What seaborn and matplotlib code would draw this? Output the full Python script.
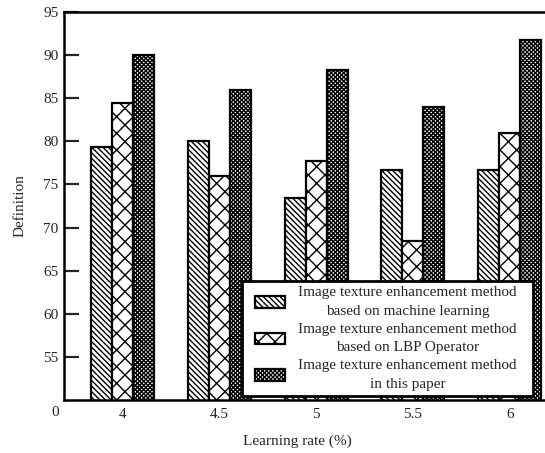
import matplotlib
matplotlib.use("Agg")
import matplotlib.pyplot as plt
import matplotlib.patches as mpatches
from matplotlib.legend_handler import HandlerPatch
import seaborn as sns
import pandas as pd

categories = ["4", "4.5", "5", "5.5", "6"]
ml_values = [79.4, 80.0, 73.4, 76.7, 76.7]
lbp_values = [84.4, 76.0, 77.7, 68.4, 81.0]
paper_values = [90.0, 86.0, 88.3, 84.0, 91.7]
series_names = [
    "Image texture enhancement method\nbased on machine learning",
    "Image texture enhancement method\nbased on LBP Operator",
    "Image texture enhancement method\nin this paper",
]
y_ticks = [55, 60, 65, 70, 75, 80, 85, 90, 95]

rows = []
for name, vals in zip(series_names, [ml_values, lbp_values, paper_values]):
    for c, v in zip(categories, vals):
        rows.append({"lr": c, "val": v, "method": name})
df = pd.DataFrame(rows)

sns.set_style("ticks")
plt.rcParams["font.family"] = ["Liberation Serif", "DejaVu Serif"]
plt.rcParams["hatch.linewidth"] = 1.0
plt.rcParams["hatch.color"] = "black"

fig = plt.figure(figsize=(5.45, 4.53), dpi=100)
ax = fig.add_axes([64 / 545, 53 / 453, 504 / 545, 388 / 453])

sns.barplot(data=df, x="lr", y="val", hue="method", order=categories,
            hue_order=series_names, ax=ax, width=0.65, gap=0,
            legend=False, saturation=1)

hatches = ["\\" * 6, "xx", "x" * 8]
for cont, h in zip(ax.containers, hatches):
    for bar in cont:
        bar.set_facecolor("white")
        bar.set_edgecolor("black")
        bar.set_linewidth(1.6)
        bar.set_hatch(h)

ax.set_ylim(50, 95)
ax.set_xlim(-0.6, 4.6)
ax.set_yticks(y_ticks)
ax.set_yticklabels([str(t) for t in y_ticks])
ax.tick_params(axis="y", direction="in", length=11, width=1.6, pad=4, labelsize=11)
ax.tick_params(axis="x", length=0, pad=6, labelsize=11)
for s in ["left", "top", "bottom", "right"]:
    ax.spines[s].set_linewidth(1.8)
    ax.spines[s].set_color("black")

ax.text(-0.018, -0.031, "0", transform=ax.transAxes, ha="center", va="center",
        fontsize=11)

ax.set_xlabel("Learning rate (%)", fontsize=11)
ax.xaxis.set_label_coords(0.464, -0.09)
ax.set_ylabel("Definition", fontsize=11, labelpad=12)


def small_rect(legend, orig_handle, xdescent, ydescent, width, height, fontsize):
    off = 6.0
    return mpatches.Rectangle((-xdescent + off, -ydescent), 21.6, height)


handles = [mpatches.Patch(facecolor="white", edgecolor="black", linewidth=1.6,
                          hatch=h) for h in hatches]
leg = ax.legend(handles, series_names, loc="lower left",
                bbox_to_anchor=(0.3532, 0.0103, 0.5774, 0.3), mode="expand",
                borderaxespad=0,
                fontsize=11, frameon=True, fancybox=False, framealpha=1,
                edgecolor="black", handlelength=2.9, handleheight=0.8,
                handletextpad=0.45, labelspacing=0.33, borderpad=0.33,
                handler_map={mpatches.Patch: HandlerPatch(patch_func=small_rect)})
leg.get_frame().set_linewidth(2.0)
for t in leg.get_texts():
    t.set_multialignment("center")
    t.set_linespacing(1.55)

fig.savefig("out.png", dpi=100)
